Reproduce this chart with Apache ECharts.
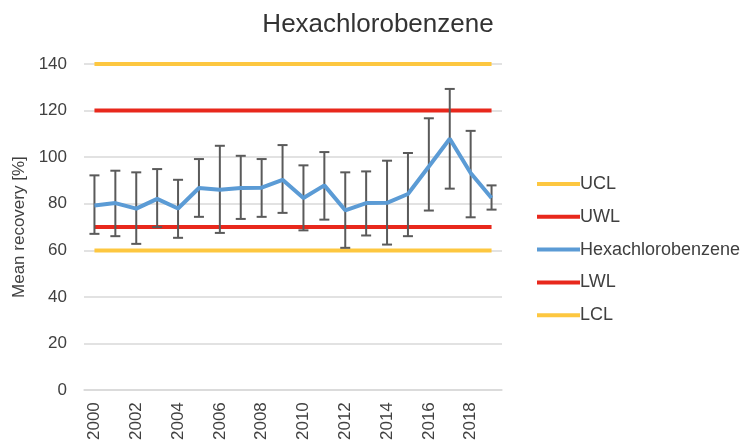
<!DOCTYPE html>
<html>
<head>
<meta charset="utf-8">
<script src="https://cdn.jsdelivr.net/npm/echarts@6/dist/echarts.min.js"></script>
<style>html,body{margin:0;padding:0;background:#fff;}#chart{width:749px;height:443px;}</style>
</head>
<body>
<div id="chart"></div>
<script>
const years = ['2000','2001','2002','2003','2004','2005','2006','2007','2008','2009','2010','2011','2012','2013','2014','2015','2016','2017','2018','2019'];
const hcbMean = [79.3, 80.3, 77.9, 82.1, 78.0, 86.8, 86.0, 86.8, 86.9, 90.3, 82.5, 87.9, 77.2, 80.3, 80.4, 84.2, 96.0, 107.9, 93.2, 82.5];
const hcbUpper = [92.2, 94.2, 93.5, 94.9, 90.3, 99.2, 104.9, 100.6, 99.2, 105.2, 96.5, 102.2, 93.5, 93.9, 98.5, 101.8, 116.7, 129.3, 111.3, 87.9];
const hcbLower = [67.1, 66.1, 62.8, 70.0, 65.4, 74.4, 67.5, 73.5, 74.4, 76.1, 68.6, 73.2, 61.1, 66.4, 62.5, 66.1, 77.1, 86.5, 74.2, 77.5];
const UCL = 140, UWL = 120, LWL = 70, LCL = 60;
const yTicks = [0, 20, 40, 60, 80, 100, 120, 140];

const yellow = '#fdc740';
const red = '#e8281c';
const blue = '#5b9bd5';
const fontFamily = '"Liberation Sans", Arial, sans-serif';

const chart = echarts.init(document.getElementById('chart'));
const flat = v => years.map(() => v);
const errData = years.map((y, i) => [i, hcbLower[i], hcbUpper[i]]);

chart.setOption({
  animation: false,
  textStyle: { fontFamily },
  title: {
    text: 'Hexachlorobenzene', left: 373, top: 7, textAlign: 'center',
    textStyle: { fontSize: 26, fontWeight: 'normal', color: '#333', fontFamily }
  },
  legend: {
    orient: 'vertical', left: 532, top: 170, itemWidth: 43, itemHeight: 4, itemGap: 14.8,
    icon: 'rect',
    data: ['UCL', 'UWL', 'Hexachlorobenzene', 'LWL', 'LCL'],
    textStyle: { fontSize: 18, color: '#404040', padding: [0, 0, 0, -5] }
  },
  grid: { left: 84, right: 247, top: 64, bottom: 52, containLabel: false },
  xAxis: {
    type: 'category', data: years, boundaryGap: true,
    axisLine: { show: true, lineStyle: { color: '#d9d9d9', width: 1.5 } },
    axisTick: { show: false },
    axisLabel: { interval: 1, rotate: 90, fontSize: 17, color: '#404040', margin: 12 }
  },
  yAxis: {
    type: 'value', min: 0, max: 140, interval: 20,
    name: 'Mean recovery [%]', nameLocation: 'middle', nameGap: 55,
    nameTextStyle: { fontSize: 17, color: '#404040' },
    axisLine: { show: false }, axisTick: { show: false },
    axisLabel: { fontSize: 17, color: '#404040', margin: 17 },
    splitLine: { lineStyle: { color: '#d9d9d9', width: 1.5 } }
  },
  series: [
    { name: 'UCL', type: 'line', data: flat(UCL), symbol: 'none', lineStyle: { color: yellow, width: 4 }, itemStyle: { color: yellow }, z: 2 },
    { name: 'UWL', type: 'line', data: flat(UWL), symbol: 'none', lineStyle: { color: red, width: 4 }, itemStyle: { color: red }, z: 2 },
    { name: 'LWL', type: 'line', data: flat(LWL), symbol: 'none', lineStyle: { color: red, width: 4 }, itemStyle: { color: red }, z: 2 },
    { name: 'LCL', type: 'line', data: flat(LCL), symbol: 'none', lineStyle: { color: yellow, width: 4 }, itemStyle: { color: yellow }, z: 2 },
    {
      name: 'err', type: 'custom', data: errData, z: 3,
      renderItem: function (params, api) {
        const x = api.value(0);
        const lo = api.coord([x, api.value(1)]);
        const hi = api.coord([x, api.value(2)]);
        const hw = 5;
        const style = { stroke: '#5a5a5a', lineWidth: 2 };
        return {
          type: 'group',
          children: [
            { type: 'line', shape: { x1: lo[0], y1: lo[1], x2: hi[0], y2: hi[1] }, style },
            { type: 'line', shape: { x1: lo[0] - hw, y1: lo[1], x2: lo[0] + hw, y2: lo[1] }, style },
            { type: 'line', shape: { x1: hi[0] - hw, y1: hi[1], x2: hi[0] + hw, y2: hi[1] }, style }
          ]
        };
      }
    },
    { name: 'Hexachlorobenzene', type: 'line', data: hcbMean, symbol: 'none', lineStyle: { color: blue, width: 4 }, itemStyle: { color: blue }, z: 4 }
  ]
});
</script>
</body>
</html>
